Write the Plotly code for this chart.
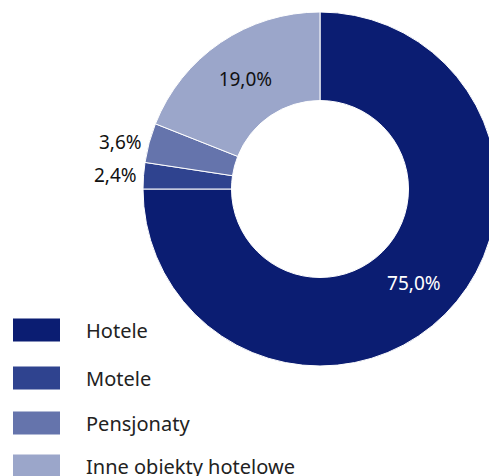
import math
import plotly.graph_objects as go

categories = ["Hotele", "Motele", "Pensjonaty", "Inne obiekty hotelowe"]
values = [75.0, 2.4, 3.6, 19.0]
colors = ["#0b1d72", "#2f438f", "#6574ac", "#9ba6ca"]
text_colors = ["white", "#111111", "#111111", "#111111"]
label_inside = [True, False, False, True]

W, H = 489, 476
OFF = 8  # page body margin
FONT = "Noto Sans"

# pie box in page pixels
PX0, PX1, PY0, PY1 = 143, 497, 12, 366
CX, CY, R = (PX0 + PX1) / 2, (PY0 + PY1) / 2, (PX1 - PX0) / 2


def px(x):
    return (x - OFF) / W


def py(y):
    return 1 - (y - OFF) / H


def fmt(v):
    return f"{v:.1f}%".replace(".", ",")


total = sum(values)
texts = [fmt(v / total * 100) if ins else "" for v, ins in zip(values, label_inside)]

fig = go.Figure(go.Pie(
    labels=categories,
    values=values,
    sort=False,
    direction="clockwise",
    rotation=0,
    hole=0.5,
    marker=dict(colors=colors, line=dict(color="white", width=1)),
    text=texts,
    textinfo="text",
    textposition="inside",
    insidetextorientation="horizontal",
    textfont=dict(family=FONT, size=19, color=text_colors),
    domain=dict(x=[px(PX0), px(PX1)], y=[py(PY1), py(PY0)]),
    showlegend=False,
    hoverinfo="label+percent",
))

shapes = []
annotations = []

# outside labels for the small slices, placed at each slice's mid-angle
cum = 0.0
for v, ins in zip(values, label_inside):
    mid = (cum + v / 2) / total
    cum += v
    if ins:
        continue
    ang = 2 * math.pi * mid  # clockwise from 12 o'clock
    lx = CX + (R + 5) * math.sin(ang)
    ly = CY - (R + 5) * math.cos(ang)
    annotations.append(dict(xref="paper", yref="paper", x=px(lx), y=py(ly),
                            xanchor="right" if math.sin(ang) < 0 else "left",
                            yanchor="middle", text=fmt(v / total * 100),
                            showarrow=False,
                            font=dict(family=FONT, size=19, color="#111111")))

legend_y = [330, 378, 423, 466]
for cat, col, yc in zip(categories, colors, legend_y):
    shapes.append(dict(type="rect", xref="paper", yref="paper",
                       x0=px(13), x1=px(60),
                       y0=py(yc + 11.5), y1=py(yc - 11.5),
                       fillcolor=col, line=dict(width=0)))
    annotations.append(dict(xref="paper", yref="paper", x=px(84), y=py(yc),
                            xanchor="left", yanchor="middle", text=cat,
                            showarrow=False,
                            font=dict(family=FONT, size=20, color="#222222")))

fig.update_layout(
    width=W, height=H,
    margin=dict(l=0, r=0, t=0, b=0),
    paper_bgcolor="white",
    shapes=shapes,
    annotations=annotations,
)

fig.write_html("out.html")
